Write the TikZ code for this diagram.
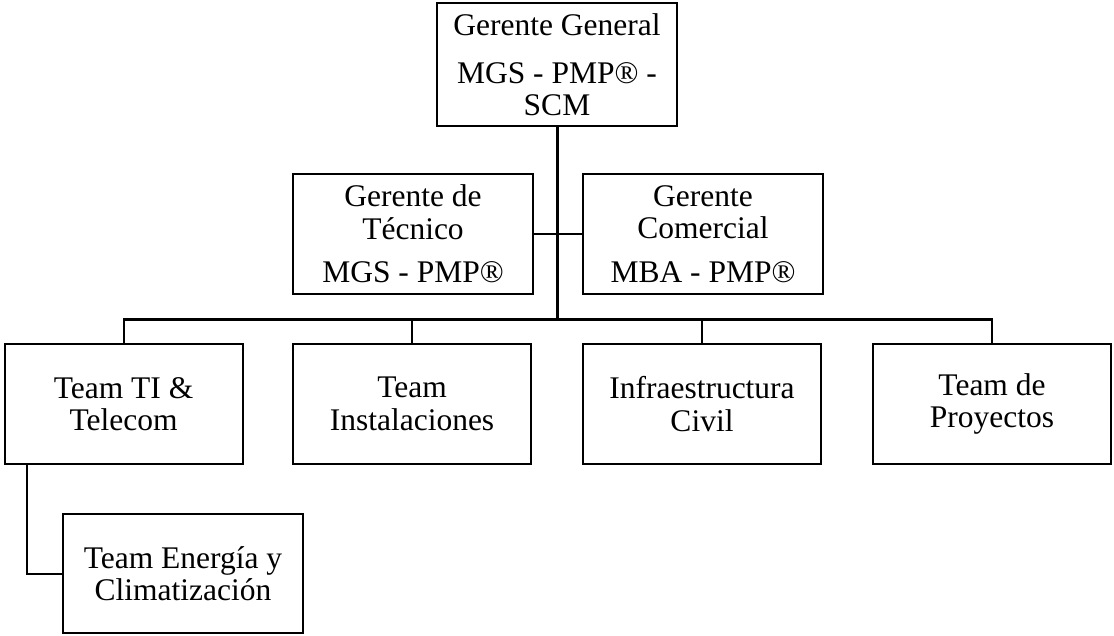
\documentclass[tikz,border=0pt]{standalone}
\usepackage{fontspec}
\setmainfont{Liberation Serif}
\begin{document}
\begin{tikzpicture}[x=1pt,y=-1pt,
  box/.style={draw=black,line width=2pt,fill=white,inner sep=0pt,align=center,
    font=\fontsize{31.5}{32.5}\selectfont},
  bigbox/.style={box,minimum width=240,minimum height=120},
  teambox/.style={box,minimum width=238,minimum height=120},
  conn/.style={line width=2pt},
  trunk/.style={line width=3pt}]
\useasboundingbox (0,0) rectangle (1114,635);
\node[box,minimum width=240,minimum height=123] (gg) at (557,64.5)
  {Gerente General\\[16pt]MGS - PMP® -\\[-1pt]SCM};
\node[bigbox] (gt) at (413,234) {Gerente de\\Técnico\\[11pt]MGS - PMP®};
\node[bigbox] (gc) at (703,234) {Gerente\\Comercial\\[11pt]MBA - PMP®};
\node[teambox] (b1) at (123.5,404) {Team TI \&\\Telecom};
\node[teambox] (b2) at (412,404) {Team\\Instalaciones};
\node[teambox] (b3) at (702,404) {Infraestructura\\Civil};
\node[teambox] (b4) at (992,404) {Team de\\Proyectos};
\node[box,minimum width=240,minimum height=119] (en) at (183,573.5)
  {Team Energía y\\Climatización};
\coordinate (bus) at (557,319);
\coordinate (ex) at (27,464);
\draw[conn] (gt.east) -- (gc.west);
\draw[conn] (b1.north) -- (b1.north |- bus) -- (b4.north |- bus) -- (b4.north);
\draw[conn] (b2.north) -- (b2.north |- bus);
\draw[conn] (b3.north) -- (b3.north |- bus);
\draw[trunk] (gg.south) -- (bus);
\draw[trunk] (b1.north |- bus) -- (b4.north |- bus);
\draw[conn] (ex) |- (en.west);
\end{tikzpicture}
\end{document}
